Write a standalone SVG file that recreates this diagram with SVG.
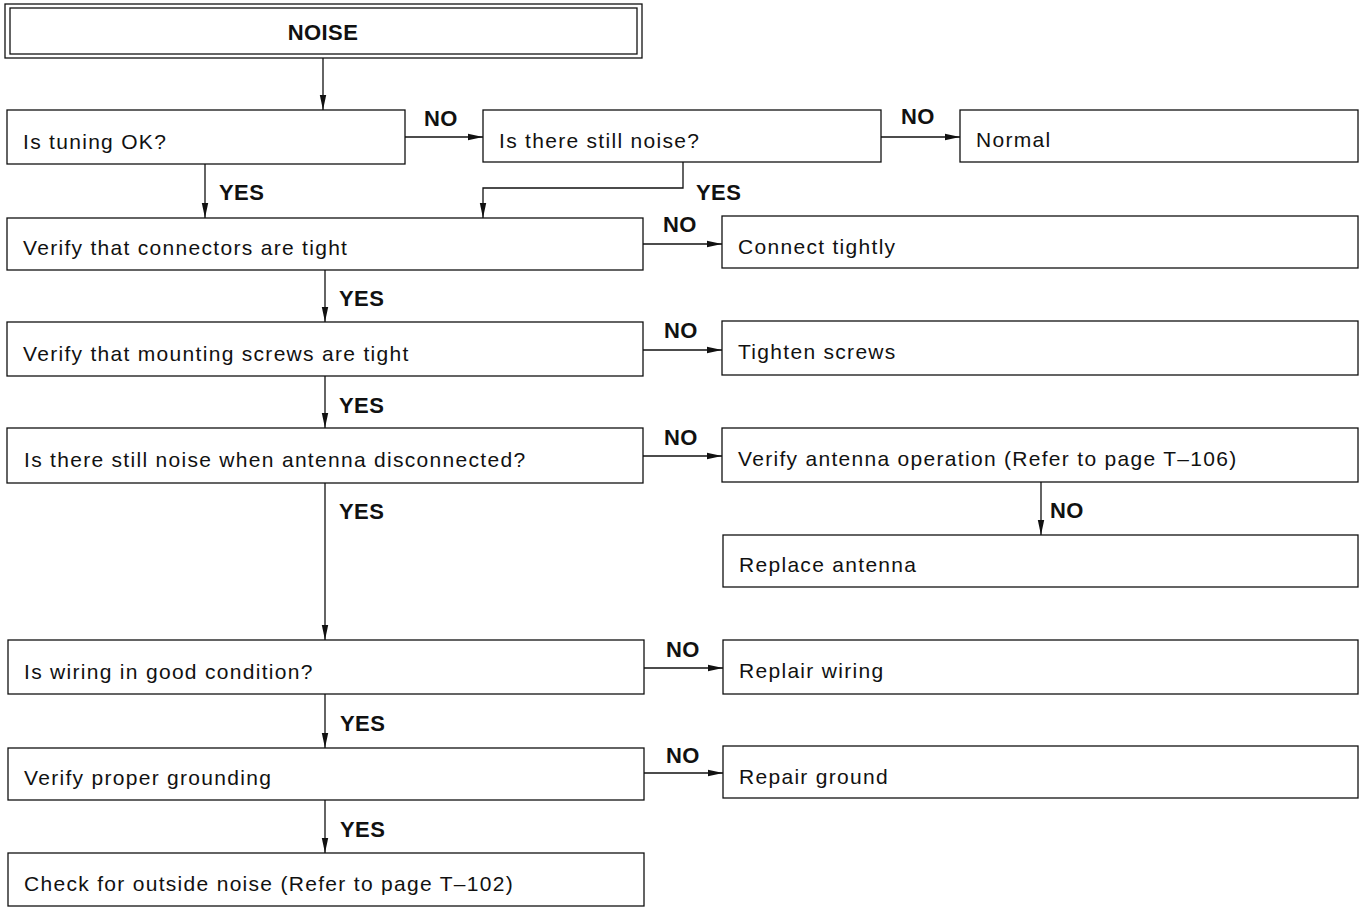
<svg xmlns="http://www.w3.org/2000/svg" width="1365" height="907" viewBox="0 0 1365 907">
<defs>
<marker id="ah" markerWidth="15" markerHeight="8" refX="15" refY="4" orient="auto" markerUnits="userSpaceOnUse">
<path d="M0,0.8 L15,4 L0,7.2 Z" fill="#111"/>
</marker>
<style>
rect{fill:#fff;stroke:#111;stroke-width:1.3}
.t{font-family:"Liberation Sans",Arial,sans-serif;font-size:21px;letter-spacing:1.3px;fill:#111}
.b{font-family:"Liberation Sans",Arial,sans-serif;font-size:22px;font-weight:bold;letter-spacing:0.4px;fill:#111}
.c line,.c path{stroke:#111;stroke-width:1.3;fill:none}
</style>
</defs>
<rect x="0" y="0" width="1365" height="907" style="stroke:none;fill:#fff"/>
<g id="n-noise"><rect x="5" y="4" width="637" height="54"/><rect x="10" y="8" width="627" height="46"/><text class="b" x="323" y="40" text-anchor="middle">NOISE</text></g>
<g id="n-tuning"><rect x="7" y="110" width="398" height="54"/><text class="t" x="23" y="149">Is tuning OK?</text></g>
<g id="n-still"><rect x="483" y="110" width="398" height="52"/><text class="t" x="499" y="148">Is there still noise?</text></g>
<g id="n-normal"><rect x="960" y="110" width="398" height="52"/><text class="t" x="976" y="147">Normal</text></g>
<g id="n-conn"><rect x="7" y="218" width="636" height="52"/><text class="t" x="23" y="255">Verify that connectors are tight</text></g>
<g id="n-conntight"><rect x="722" y="216" width="636" height="52"/><text class="t" x="738" y="254">Connect tightly</text></g>
<g id="n-screws"><rect x="7" y="322" width="636" height="54"/><text class="t" x="23" y="361">Verify that mounting screws are tight</text></g>
<g id="n-tighten"><rect x="722" y="321" width="636" height="54"/><text class="t" x="738" y="359">Tighten screws</text></g>
<g id="n-antenna"><rect x="7" y="428" width="636" height="55"/><text class="t" x="24" y="467">Is there still noise when antenna disconnected?</text></g>
<g id="n-antop"><rect x="722" y="428" width="636" height="54"/><text class="t" x="738" y="466">Verify antenna operation (Refer to page T–106)</text></g>
<g id="n-replant"><rect x="723" y="535" width="635" height="52"/><text class="t" x="739" y="572">Replace antenna</text></g>
<g id="n-wiring"><rect x="8" y="640" width="636" height="54"/><text class="t" x="24" y="679">Is wiring in good condition?</text></g>
<g id="n-repwire"><rect x="723" y="640" width="635" height="54"/><text class="t" x="739" y="678">Replair wiring</text></g>
<g id="n-ground"><rect x="8" y="748" width="636" height="52"/><text class="t" x="24" y="785">Verify proper grounding</text></g>
<g id="n-repground"><rect x="723" y="746" width="635" height="52"/><text class="t" x="739" y="784">Repair ground</text></g>
<g id="n-outside"><rect x="8" y="853" width="636" height="53"/><text class="t" x="24" y="891">Check for outside noise (Refer to page T–102)</text></g>
<g id="connectors" class="c">
<line x1="323" y1="58" x2="323" y2="110" marker-end="url(#ah)"/>
<line x1="405" y1="137" x2="483" y2="137" marker-end="url(#ah)"/>
<line x1="881" y1="137" x2="960" y2="137" marker-end="url(#ah)"/>
<line x1="205" y1="164" x2="205" y2="218" marker-end="url(#ah)"/>
<path d="M683,162 V188 H483 V218" marker-end="url(#ah)"/>
<line x1="643" y1="244" x2="722" y2="244" marker-end="url(#ah)"/>
<line x1="325" y1="270" x2="325" y2="322" marker-end="url(#ah)"/>
<line x1="643" y1="350" x2="722" y2="350" marker-end="url(#ah)"/>
<line x1="325" y1="376" x2="325" y2="428" marker-end="url(#ah)"/>
<line x1="643" y1="456" x2="722" y2="456" marker-end="url(#ah)"/>
<line x1="1041" y1="482" x2="1041" y2="535" marker-end="url(#ah)"/>
<line x1="325" y1="483" x2="325" y2="640" marker-end="url(#ah)"/>
<line x1="644" y1="668" x2="723" y2="668" marker-end="url(#ah)"/>
<line x1="325" y1="694" x2="325" y2="748" marker-end="url(#ah)"/>
<line x1="644" y1="773" x2="723" y2="773" marker-end="url(#ah)"/>
<line x1="325" y1="800" x2="325" y2="853" marker-end="url(#ah)"/>
</g>
<g id="labels">
<text class="b" x="424" y="126">NO</text>
<text class="b" x="901" y="124">NO</text>
<text class="b" x="219" y="200">YES</text>
<text class="b" x="696" y="200">YES</text>
<text class="b" x="663" y="232">NO</text>
<text class="b" x="339" y="306">YES</text>
<text class="b" x="664" y="338">NO</text>
<text class="b" x="339" y="413">YES</text>
<text class="b" x="664" y="445">NO</text>
<text class="b" x="1050" y="518">NO</text>
<text class="b" x="339" y="519">YES</text>
<text class="b" x="666" y="657">NO</text>
<text class="b" x="340" y="731">YES</text>
<text class="b" x="666" y="763">NO</text>
<text class="b" x="340" y="837">YES</text>
</g>
</svg>
